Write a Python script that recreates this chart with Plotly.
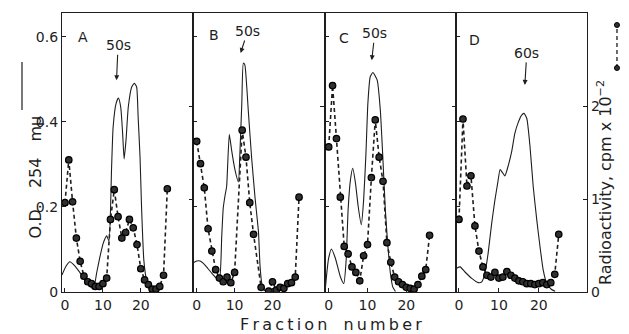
import plotly.graph_objects as go

# ---------------- data ----------------
panel_names = ["A", "B", "C", "D"]
peak_labels = ["50s", "50s", "50s", "60s"]
peak_fraction = [13.6, 11.6, 11.1, 16.5]
peak_tip_od = [0.498, 0.562, 0.545, 0.487]

# O.D. 254 mu (solid line)
od_a_frac = [-0.8, 0.3, 1.3, 2.4, 4.0, 5.3, 6.6, 7.5, 8.4, 9.2, 10.1, 11.0, 11.6, 12.3, 12.7, 13.5,
             14.1, 14.7, 15.2, 15.6, 16.1, 16.7, 17.6, 18.3, 18.9, 19.3, 19.8, 20.2, 20.8, 21.6, 22.4, 24.0]
od_a = [0.040, 0.061, 0.071, 0.063, 0.045, 0.028, 0.014, 0.007, 0.047, 0.082, 0.115, 0.132, 0.120,
        0.294, 0.388, 0.444, 0.456, 0.435, 0.374, 0.313, 0.357, 0.435, 0.482, 0.491, 0.482, 0.411,
        0.317, 0.200, 0.075, 0.024, 0.005, 0.002]

od_b_frac = [-0.9, 0.0, 0.9, 1.7, 2.6, 4.0, 5.3, 6.0, 6.6, 7.0, 7.5, 7.9, 8.6, 9.2, 10.1, 11.0, 11.4,
             11.9, 12.3, 12.7, 13.2, 13.6, 14.5, 15.4, 16.3, 16.7, 17.2, 17.8, 19.3]
od_b = [0.069, 0.073, 0.073, 0.068, 0.059, 0.044, 0.032, 0.030, 0.130, 0.197, 0.228, 0.248, 0.371,
        0.334, 0.287, 0.259, 0.327, 0.444, 0.538, 0.534, 0.483, 0.428, 0.315, 0.221, 0.141, 0.063,
        0.019, 0.004, 0.002]

od_c_frac = [-0.9, -0.4, 0.0, 0.7, 1.7, 3.0, 3.9, 4.5, 5.0, 5.6, 6.2, 6.9, 7.6, 8.4, 9.0, 9.6, 10.1,
             10.7, 11.4, 12.5, 13.3, 13.9, 14.6, 15.2, 15.9, 16.5, 17.2]
od_c = [0.005, 0.052, 0.080, 0.101, 0.080, 0.036, 0.020, 0.075, 0.193, 0.263, 0.291, 0.256, 0.201,
        0.158, 0.216, 0.326, 0.444, 0.506, 0.516, 0.498, 0.428, 0.326, 0.193, 0.114, 0.044, 0.012, 0.001]

od_d_frac = [-0.6, 0.3, 1.5, 3.2, 4.8, 5.7, 6.5, 7.3, 8.2, 9.0, 9.7, 10.3, 10.8, 11.5, 12.4, 13.2,
             14.0, 14.9, 15.7, 16.3, 17.0, 17.8, 18.6, 19.5, 20.3, 21.1, 22.0, 23.2, 24.1]
od_d = [0.056, 0.059, 0.047, 0.032, 0.022, 0.024, 0.044, 0.091, 0.162, 0.216, 0.256, 0.288, 0.282,
        0.273, 0.299, 0.330, 0.373, 0.400, 0.416, 0.420, 0.408, 0.342, 0.248, 0.169, 0.107, 0.052,
        0.020, 0.006, 0.002]

# Radioactivity, cpm x 10^-2 (dashed line with dots)
cpm_a_frac = list(range(0, 28))
cpm_a = [0.96, 1.42, 0.97, 0.58, 0.33, 0.17, 0.11, 0.09, 0.06, 0.06, 0.09, 0.15, 0.78, 1.10, 0.81,
         0.58, 0.64, 0.78, 0.69, 0.51, 0.25, 0.13, 0.08, 0.03, 0.03, 0.06, 0.18, 1.11]

cpm_b_frac = [0, 1, 2, 3, 4, 5, 6, 7, 8, 9, 10, 12, 13, 14, 15, 17, 19, 20, 21, 22, 23, 24, 25, 26, 27]
cpm_b = [1.62, 1.38, 1.12, 0.68, 0.44, 0.24, 0.15, 0.11, 0.16, 0.10, 0.21, 1.74, 1.45, 0.96, 0.62,
         0.05, 0.01, 0.11, 0.02, 0.05, 0.04, 0.09, 0.10, 0.16, 1.02]

cpm_c_frac = list(range(0, 27))
cpm_c = [1.56, 2.22, 1.65, 1.02, 0.49, 0.41, 0.27, 0.21, 0.12, 0.39, 0.51, 1.23, 1.85, 1.45, 1.19,
         0.53, 0.32, 0.16, 0.11, 0.08, 0.05, 0.04, 0.03, 0.08, 0.17, 0.24, 0.61]

cpm_d_frac = list(range(0, 26))
cpm_d = [0.78, 1.86, 1.14, 1.25, 0.71, 0.44, 0.27, 0.18, 0.16, 0.21, 0.15, 0.16, 0.22, 0.18, 0.15,
         0.12, 0.11, 0.09, 0.09, 0.08, 0.09, 0.10, 0.08, 0.10, 0.19, 0.62]

x_ticks = [0, 10, 20]
od_ticks = [0, 0.2, 0.4, 0.6]
od_ticktext = ["0", "0.2", "0.4", "0.6"]
cpm_ticks = [0, 1, 2, 3]
cpm_ticktext = ["0", "1", "2", "3"]

od_fracs = [od_a_frac, od_b_frac, od_c_frac, od_d_frac]
od_vals = [od_a, od_b, od_c, od_d]
cpm_fracs = [cpm_a_frac, cpm_b_frac, cpm_c_frac, cpm_d_frac]
cpm_vals = [cpm_a, cpm_b, cpm_c, cpm_d]

# ---------------- figure ----------------
INK = "#1e1e1e"
FONT = "DejaVu Sans"
x_ranges = [[-0.79, 33.84], [-0.91, 33.72], [-1.08, 32.74], [-0.81, 32.08]]

fig = go.Figure()
# the page body adds an 8px margin, so the figure is 8px smaller and margins shifted
layout = dict(
    width=621, height=326,
    margin=dict(l=54, r=42, t=5, b=42),
    paper_bgcolor="white", plot_bgcolor="white",
    showlegend=False,
    font=dict(family=FONT, size=14, color=INK),
)

for i in range(4):
    xn = f"x{i+1}" if i else "x"
    yod = f"y{2*i+1}" if i else "y"
    ycp = f"y{2*i+2}"
    xkey = f"xaxis{i+1}" if i else "xaxis"
    yodkey = f"yaxis{2*i+1}" if i else "yaxis"
    ycpkey = f"yaxis{2*i+2}"

    fig.add_trace(go.Scatter(x=od_fracs[i], y=od_vals[i], mode="lines",
                             line=dict(color=INK, width=1.1, shape="spline", smoothing=0.5),
                             xaxis=xn, yaxis=yod))
    fig.add_trace(go.Scatter(x=cpm_fracs[i], y=cpm_vals[i], mode="lines+markers",
                             line=dict(color=INK, width=1.6, dash="4px,3px"),
                             marker=dict(symbol="circle", size=6.5, color="#303030",
                                         line=dict(color="black", width=1.2)),
                             xaxis=xn, yaxis=ycp))

    layout[xkey] = dict(domain=[i / 4, (i + 1) / 4], range=x_ranges[i], anchor=yod,
                        tickvals=x_ticks, ticks="inside", ticklen=4, tickcolor=INK,
                        showline=True, linecolor=INK, linewidth=1.3, mirror=True,
                        showgrid=False, zeroline=False, tickfont=dict(size=14))
    layout[yodkey] = dict(domain=[0, 1], range=[0, 0.656], anchor=xn,
                          tickvals=od_ticks, ticktext=od_ticktext, showticklabels=(i == 0),
                          ticks="inside", ticklen=4, tickcolor=INK,
                          showline=True, linecolor=INK, linewidth=1.3,
                          showgrid=False, zeroline=False, tickfont=dict(size=14))
    layout[ycpkey] = dict(range=[0, 3], overlaying=yod, side="right", anchor=xn,
                          tickvals=cpm_ticks if i == 3 else [1, 2],
                          ticktext=cpm_ticktext if i == 3 else ["1", "2"],
                          showticklabels=(i == 3), ticks="inside", ticklen=4, tickcolor=INK,
                          showline=True, linecolor=INK, linewidth=1.3,
                          showgrid=False, zeroline=False, tickfont=dict(size=14))

fig.update_layout(**layout)

# panel letters and peak arrows
letter_pos = [(0.107, 0.951), (0.102, 0.957), (0.093, 0.945), (0.083, 0.939)]
arrow_offsets = [(1.5, -35), (7, -22), (3, -27), (2, -32)]
for i in range(4):
    xn = f"x{i+1}" if i else "x"
    yod = f"y{2*i+1}" if i else "y"
    fig.add_annotation(x=letter_pos[i][0], y=letter_pos[i][1], xref=f"{xn} domain",
                       yref=f"{yod} domain", text=panel_names[i], showarrow=False,
                       font=dict(size=14, color=INK))
    fig.add_annotation(x=peak_fraction[i], y=peak_tip_od[i], xref=xn, yref=yod,
                       text=peak_labels[i], showarrow=True, arrowhead=2, arrowsize=0.9,
                       arrowwidth=1.1, arrowcolor=INK, ax=arrow_offsets[i][0],
                       ay=arrow_offsets[i][1], font=dict(size=14, color=INK))

# axis titles (paper coords relative to the plot area)
fig.add_annotation(x=-0.0724, y=0.412, xref="paper", yref="paper",
                   text="O.D.\u2003254\u2003m\u03bc", textangle=-90, showarrow=False,
                   font=dict(size=16, color=INK))
fig.add_shape(type="line", xref="paper", yref="paper", x0=-0.0762, x1=-0.0762,
              y0=0.652, y1=0.824, line=dict(color=INK, width=1.2))

fig.add_annotation(x=1.057, y=0.392, xref="paper", yref="paper",
                   text="Radioactivity, cpm x 10<sup>\u22122</sup>", textangle=-90,
                   showarrow=False, font=dict(size=16, color=INK))
fig.add_shape(type="line", xref="paper", yref="paper", x0=1.0571, x1=1.0571,
              y0=0.803, y1=0.957, line=dict(color=INK, width=1.3, dash="4px,3px"))
for yy in (0.803, 0.957):
    fig.add_shape(type="circle", xref="paper", yref="paper",
                  x0=1.0571 - 0.0048, x1=1.0571 + 0.0048, y0=yy - 0.009, y1=yy + 0.009,
                  fillcolor="#303030", line=dict(color="black", width=1))

fig.add_annotation(x=0.512, y=-0.118, xref="paper", yref="paper",
                   text="\u2009".join("Fraction") + "\u2003" + "\u2009".join("number"),
                   showarrow=False, yanchor="middle", font=dict(size=16, color=INK))

fig.write_html("out.html")
